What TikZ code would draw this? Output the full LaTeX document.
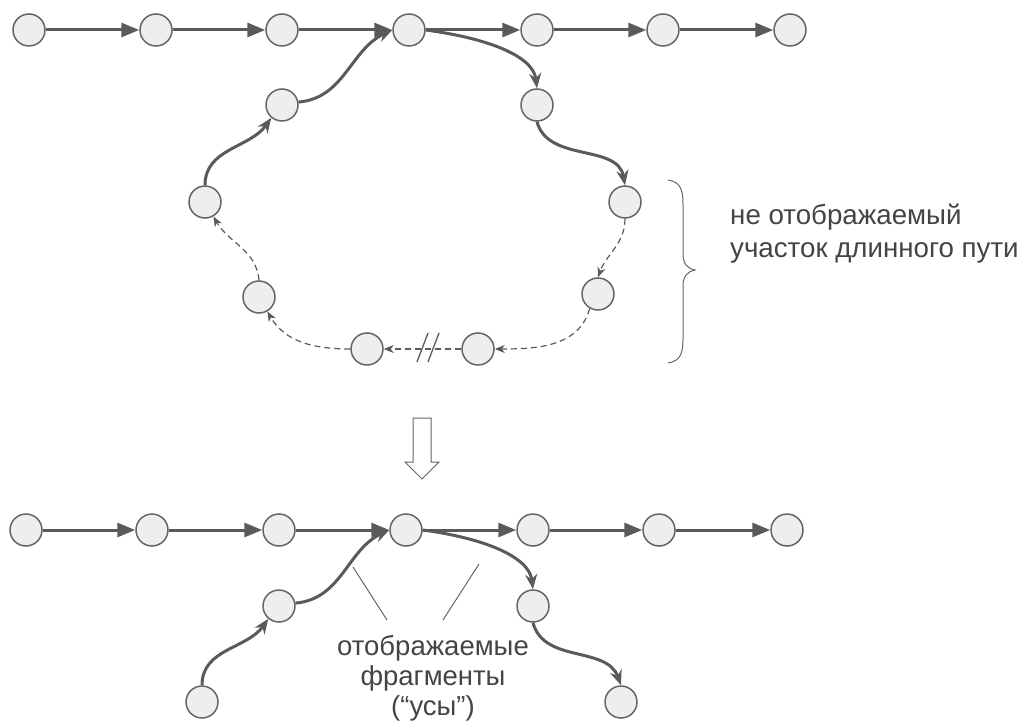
\documentclass[tikz,border=0pt]{standalone}
\usepackage{fontspec}
\setmainfont{Liberation Sans}
\usetikzlibrary{arrows.meta}
\definecolor{nodefill}{HTML}{EEEEEE}
\definecolor{nodeline}{HTML}{666666}
\definecolor{pathcol}{HTML}{5A5A5A}
\definecolor{txtcol}{HTML}{444444}
\tikzset{
  vtx/.style={circle,draw=nodeline,fill=nodefill,line width=1.5pt,minimum size=32pt,inner sep=0pt},
  edge/.style={pathcol,line width=3pt,-{Triangle[length=18pt,width=14pt]}},
  bent/.style={pathcol,line width=3pt,-{Stealth[length=15pt,width=12pt,inset=5pt]}},
  hidden/.style={pathcol,line width=1.2pt,dash pattern=on 6pt off 4pt,-{Stealth[length=10pt,width=8pt,inset=3pt]}},
  thin/.style={nodeline,line width=1pt},
  label/.style={txtcol,inner sep=0pt}
}

\begin{document}
\begin{tikzpicture}[x=1pt,y=1pt]
\useasboundingbox (0,0) rectangle (1022,724);

% long path, before
\foreach \i/\x in {1/29,2/156,3/282,4/409,5/537,6/663,7/790}
  \node[vtx] (t\i) at (\x,694) {};
\foreach \i/\j in {1/2,2/3,3/4,4/5,5/6,6/7}
  \draw[edge] (t\i) -- (t\j);

% the loop
\node[vtx] (l1) at (282,619) {};
\node[vtx] (l2) at (537,619) {};
\node[vtx] (l3) at (625,522) {};
\node[vtx] (l4) at (205,522) {};
\node[vtx] (l5) at (598,430) {};
\node[vtx] (l8) at (259,427) {};
\node[vtx] (l6) at (478,375) {};
\node[vtx] (l7) at (367,375) {};

\draw[bent] (l1.10) to[out=5,in=205] (t4.west);
\draw[bent] (t4.east) .. controls +(60,-8) and +(-4,33) .. (l2.north);
\draw[bent] (l2.south) to[out=-75,in=100] (l3.north);
\draw[bent] (l4.north) to[out=90,in=235] (l1.230);

\draw[hidden] (l3.south) to[out=-90,in=70] (l5.north);
\draw[hidden] (l5.240) to[out=-105,in=0] (l6.east);
\draw[hidden] (l6.west) -- (l7.east);
\draw[hidden] (l7.west) to[out=180,in=-60] (l8.300);
\draw[hidden] (l8.north) to[out=95,in=-60] (l4.300);

% break marks
\draw[pathcol,line width=1.3pt] (417,362) -- (428,391);
\draw[pathcol,line width=1.3pt] (428,362) -- (439,391);

% brace and its note
\draw[thin] (668,544) .. controls (680,542) and (683,535) .. (683,520)
  -- (683,470) .. controls (683,460) and (688,455) .. (695,454)
  .. controls (688,453) and (683,448) .. (683,438)
  -- (683,385) .. controls (683,370) and (680,363) .. (668,361);
\node[label,anchor=base west,align=left,font=\fontsize{27.7}{33}\selectfont] (note) at (730,466)
  {не отображаемый\\участок длинного пути};

% hollow arrow
\draw[thin,fill=white] (413,306) -- (431,306) -- (431,262) -- (439,262)
  -- (422,245) -- (405,262) -- (413,262) -- cycle;

% long path, after
\foreach \i/\x in {1/26,2/152,3/279,4/406,5/533,6/659,7/787}
  \node[vtx] (b\i) at (\x,194) {};
\foreach \i/\j in {1/2,2/3,3/4,4/5,5/6,6/7}
  \draw[edge] (b\i) -- (b\j);

\node[vtx] (w1) at (279,118) {};
\node[vtx] (w2) at (202,22) {};
\node[vtx] (w3) at (533,118) {};
\node[vtx] (w4) at (621,22) {};

\draw[bent] (w1.10) to[out=5,in=205] (b4.west);
\draw[bent] (w2.north) to[out=90,in=235] (w1.230);
\draw[bent] (b4.east) .. controls +(60,-8) and +(-4,33) .. (w3.north);
\draw[bent] (w3.south) to[out=-75,in=110] (w4.north);

% whiskers
\node[label,anchor=base,align=center,font=\fontsize{27.5}{30}\selectfont] (whisk) at (433,9)
  {отображаемые\\фрагменты\\(“усы”)};
\coordinate (c1) at (353,157);
\coordinate (c2) at (387,104);
\coordinate (c3) at (479,160);
\coordinate (c4) at (443,104);
\draw[thin] (c1) -- (c2);
\draw[thin] (c3) -- (c4);
\end{tikzpicture}
\end{document}
